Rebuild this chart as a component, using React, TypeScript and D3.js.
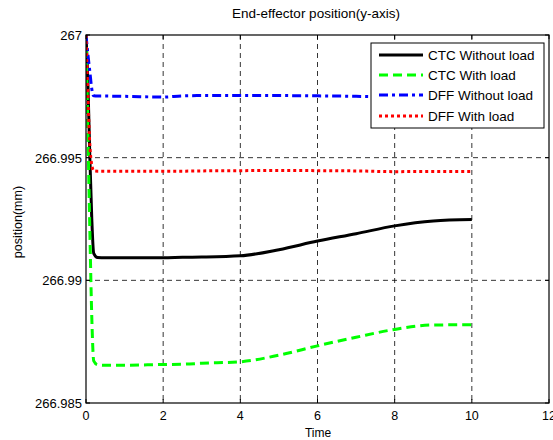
import React from "react";
import * as d3 from "d3";

const time = [0, 0.05, 0.1, 0.15, 0.2, 0.3, 0.5, 1, 2, 2.5, 3, 4, 5, 6, 7, 8, 9, 10];
const ctcNoLoad = [267, 266.998, 266.995, 266.9925, 266.9911, 266.99093, 266.99092, 266.99092, 266.99092, 266.99094, 266.99095, 266.99100, 266.99125, 266.9916, 266.9919, 266.99222, 266.99242, 266.99248];
const ctcLoad = [267, 266.996, 266.992, 266.9885, 266.98672, 266.98656, 266.98654, 266.98654, 266.98657, 266.98658, 266.98662, 266.98668, 266.98695, 266.98733, 266.98768, 266.98800, 266.98818, 266.98819];
const dffNoLoad = [267, 266.9992, 266.9985, 266.9978, 266.99752, 266.99751, 266.99751, 266.9975, 266.99747, 266.99752, 266.99753, 266.99753, 266.99753, 266.99752, 266.9975, 266.99747, 266.99748, 266.99749];
const dffLoad = [267, 266.9975, 266.9955, 266.9947, 266.99446, 266.99445, 266.99445, 266.99445, 266.99445, 266.99445, 266.99446, 266.99447, 266.99448, 266.99447, 266.99446, 266.99443, 266.99444, 266.99444];

const xTicks = [0, 2, 4, 6, 8, 10, 12];
const yTicks = [266.985, 266.99, 266.995, 267];
const yTickLabels = ["266.985", "266.99", "266.995", "267"];
const seriesNames = ["CTC Without load", "CTC With load", "DFF Without load", "DFF With load"];
const seriesData = [ctcNoLoad, ctcLoad, dffNoLoad, dffLoad];
const seriesColors = ["#000000", "#00ff00", "#0000ff", "#ff0000"];
const seriesDash = ["none", "9,5", "9,4,3,4", "3,3"];

export default function App() {
  const W = 553, H = 440;
  const left = 86, right = 549, top = 35, bottom = 403;
  const x = d3.scaleLinear().domain([0, 12]).range([left, right]);
  const y = d3.scaleLinear().domain([266.985, 267]).range([bottom, top]);
  const font = "'Liberation Sans', Arial, sans-serif";
  const line = (vals: number[]) =>
    d3.line<number>().x((_, i) => x(time[i])).y((d) => y(d)).curve(d3.curveMonotoneX)(vals) || "";

  const legX = 371, legY = 43, legW = 173, legH = 85;
  const rowY = [55, 75, 95, 116];
  return (
    <div style={{ position: "fixed", left: 0, top: 0 }}>
      <svg width={W} height={H} style={{ display: "block", background: "#fff" }} fontFamily={font}>
        <rect x={0} y={0} width={W} height={H} fill="#fff" />
        {xTicks.slice(1, -1).map((t) => (
          <line key={"gx" + t} x1={x(t)} x2={x(t)} y1={top} y2={bottom} stroke="#000" strokeWidth={0.8} strokeDasharray="5,4" />
        ))}
        {yTicks.slice(1, -1).map((t) => (
          <line key={"gy" + t} x1={left} x2={right} y1={y(t)} y2={y(t)} stroke="#000" strokeWidth={0.8} strokeDasharray="5,4" />
        ))}
        <defs>
          <clipPath id="clip">
            <rect x={left} y={top - 1} width={right - left} height={bottom - top + 2} />
          </clipPath>
        </defs>
        <g clipPath="url(#clip)">
          {seriesData.map((vals, i) => (
            <path key={i} d={line(vals)} fill="none" stroke={seriesColors[i]} strokeWidth={3} strokeDasharray={seriesDash[i]} strokeLinejoin="round" />
          ))}
        </g>
        <rect x={left} y={top} width={right - left} height={bottom - top} fill="none" stroke="#000" strokeWidth={1.2} />
        {xTicks.map((t) => (
          <g key={"xt" + t}>
            <line x1={x(t)} x2={x(t)} y1={bottom} y2={bottom - 4} stroke="#000" />
            <line x1={x(t)} x2={x(t)} y1={top} y2={top + 4} stroke="#000" />
            <text x={x(t)} y={420} fontSize={12.5} textAnchor="middle">{t}</text>
          </g>
        ))}
        {yTicks.map((t, i) => (
          <g key={"yt" + t}>
            <line x1={left} x2={left + 4} y1={y(t)} y2={y(t)} stroke="#000" />
            <line x1={right} x2={right - 4} y1={y(t)} y2={y(t)} stroke="#000" />
            <text x={left - 4} y={y(t) + 5} fontSize={13} textAnchor="end">{yTickLabels[i]}</text>
          </g>
        ))}
        <text x={316} y={18} fontSize={13.5} textAnchor="middle">End-effector position(y-axis)</text>
        <text x={318} y={437} fontSize={12} textAnchor="middle">Time</text>
        <text transform={`translate(22,222) rotate(-90)`} fontSize={12.5} textAnchor="middle">position(mm)</text>
        <rect x={legX} y={legY} width={legW} height={legH} fill="#fff" stroke="#000" strokeWidth={1} />
        {seriesNames.map((n, i) => (
          <g key={n}>
            <line x1={379} x2={423} y1={rowY[i]} y2={rowY[i]} stroke={seriesColors[i]} strokeWidth={3} strokeDasharray={seriesDash[i]} />
            <text x={428} y={rowY[i] + 5} fontSize={13.5}>{n}</text>
          </g>
        ))}
      </svg>
    </div>
  );
}
